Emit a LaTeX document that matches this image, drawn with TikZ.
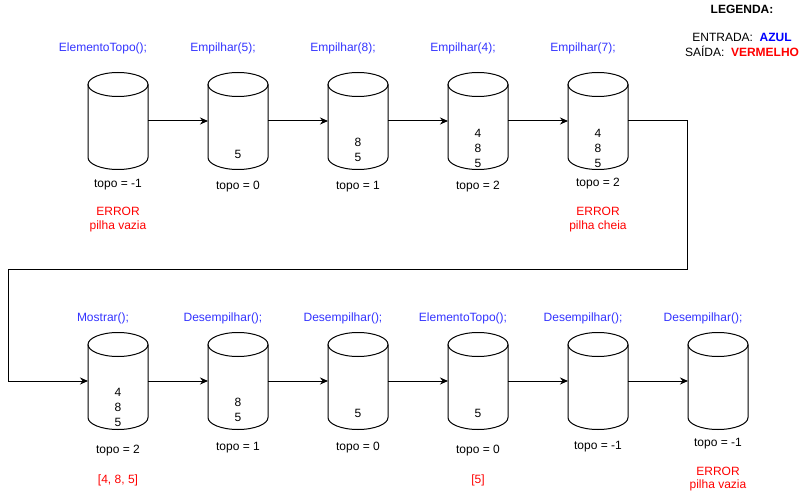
\documentclass[tikz,border=0pt]{standalone}
\usepackage{fontspec}
\setmainfont{Liberation Sans}
\usetikzlibrary{arrows.meta}
\definecolor{opblue}{HTML}{3333FF}
\definecolor{outred}{HTML}{FF0000}
\definecolor{legblue}{HTML}{0000FF}
\begin{document}
\begin{tikzpicture}[x=1pt, y=-1pt,
    font=\fontsize{12}{15}\selectfont,
    cylbox/.style={minimum width=60pt, minimum height=97pt,
      inner sep=0pt, outer sep=0pt},
    cylline/.style={line width=1pt},
    op/.style={text=opblue, inner sep=0pt},
    stk/.style={align=center, inner sep=0pt},
    topo/.style={inner sep=0pt},
    err/.style={text=outred, align=center, inner sep=0pt,
      font=\fontsize{12}{14}\selectfont},
    link/.style={line width=1pt, -{Stealth[length=8pt,width=7pt]}}]

  \useasboundingbox (0,0) rectangle (808,494);

  % the stacks, with the call above and topo below
  \foreach \i/\x/\y/\op/\oy/\stack/\sy/\t/\ty in {
      1/118/121/ElementoTopo();/48/{}/150/-1/185,
      2/238/121/Empilhar(5);/48/{5}/154/0/187,
      3/358/121/Empilhar(8);/48/{8\\5}/150/1/187,
      4/478/121/Empilhar(4);/48/{4\\8\\5}/148/2/187,
      5/598/121/Empilhar(7);/48/{4\\8\\5}/148/2/184,
      6/118/381/Mostrar();/318/{4\\8\\5}/407/2/451,
      7/238/381/Desempilhar();/318/{8\\5}/410/1/448,
      8/358/381/Desempilhar();/318/{5}/413/0/448,
      9/478/381/ElementoTopo();/318/{5}/413/0/451,
      10/598/381/Desempilhar();/318/{}/410/-1/447,
      11/718/381/Desempilhar();/318/{}/410/-1/444}{
    \node[cylbox] (c\i) at (\x,\y) {};
    \draw[cylline] ([yshift=-12pt]c\i.north) ellipse [x radius=30pt, y radius=12pt];
    \draw[cylline] ([yshift=-12pt]c\i.north west) -- ([yshift=12pt]c\i.south west)
      arc [start angle=180, end angle=360, x radius=30pt, y radius=12pt]
      -- ([yshift=-12pt]c\i.north east);
    \node[op] (op\i) at (\x-15,\oy) {\op};
    \node[stk] (s\i) at (\x,\sy) {\stack};
    \node[topo] (t\i) at (\x,\ty) {topo = \t};
  }

  % outputs
  \node[err] (out1) at (118,220) {ERROR\\pilha vazia};
  \node[err] (out5) at (598,219.5) {ERROR\\pilha cheia};
  \node[err] (out6) at (118,480) {[4, 8, 5]};
  \node[err] (out9) at (478,480) {[5]};
  \node[err, font=\fontsize{12}{13}\selectfont] (out11) at (718,479.5) {ERROR\\pilha vazia};

  % legend
  \node[inner sep=0pt] (legTitle) at (742,9) {\bfseries LEGENDA:};
  \node[align=center, inner sep=0pt] (legBody) at (742,44.5)
    {ENTRADA:~~\textcolor{legblue}{\bfseries AZUL}\\
     SAÍDA:~~\textcolor{outred}{\bfseries VERMELHO}};

  % connectors
  \foreach \a/\b in {1/2,2/3,3/4,4/5,6/7,7/8,8/9,9/10,10/11}
    \draw[link] (c\a.east) -- (c\b.west);

  \coordinate (turnR) at (687,270);
  \coordinate (turnL) at (8,381);
  \draw[link] (c5.east) -| (turnR) -| (turnL) -- (c6.west);

\end{tikzpicture}
\end{document}
